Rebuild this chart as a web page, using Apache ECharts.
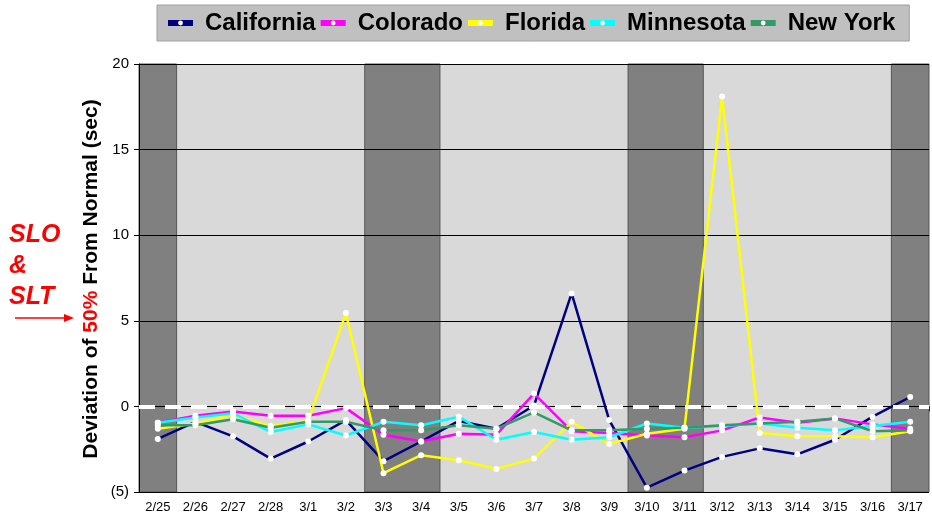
<!DOCTYPE html>
<html>
<head>
<meta charset="utf-8">
<script src="https://cdn.jsdelivr.net/npm/echarts@6/dist/echarts.min.js"></script>
<style>
  html, body { margin: 0; padding: 0; background: #fff; }
  #chart { width: 932px; height: 519px; }
</style>
</head>
<body>
<div id="chart"></div>
<script>
// dates on the x axis
var days = ['2/25', '2/26', '2/27', '2/28', '3/1', '3/2', '3/3', '3/4', '3/5', '3/6', '3/7',
  '3/8', '3/9', '3/10', '3/11', '3/12', '3/13', '3/14', '3/15', '3/16', '3/17'];

// deviation of the 50th percentile from normal, seconds
var california = [-1.9, -0.9, -1.75, -3.05, -2.05, -0.8, -3.2, -2.05, -0.85, -1.3, 0.05,
  6.6, -0.8, -4.75, -3.75, -2.95, -2.45, -2.8, -1.95, -0.6, 0.55];
var colorado = [-0.95, -0.55, -0.3, -0.55, -0.55, -0.1, -1.65, -2.05, -1.6, -1.65, 0.75,
  -1.45, -1.55, -1.7, -1.8, -1.4, -0.65, -0.95, -0.7, -1.05, -1.3];
var florida = [-1.3, -1.0, -0.5, -1.15, -0.85, 5.45, -3.9, -2.85, -3.15, -3.65, -3.05,
  -0.9, -2.2, -1.6, -1.3, 18.1, -1.55, -1.75, -1.75, -1.8, -1.45];
var minnesota = [-0.95, -0.65, -0.4, -1.5, -1.05, -1.7, -0.9, -1.1, -0.6, -1.95, -1.5,
  -1.95, -1.8, -1.0, -1.25, -1.15, -1.0, -1.25, -1.4, -1.15, -0.9];
var newYork = [-1.1, -1.1, -0.75, -1.25, -0.9, -0.9, -1.4, -1.4, -1.1, -1.3, -0.35,
  -1.4, -1.4, -1.3, -1.25, -1.1, -1.0, -0.9, -0.7, -1.45, -1.4];

var yTicks = [-5, 0, 5, 10, 15, 20];

// weekend / weekday bands, as day-index ranges
var weekendBands = [[0, 1], [6, 8], [13, 15], [20, 21]];
var weekdayBands = [[1, 6], [8, 13], [15, 20]];

var myChart = echarts.init(document.getElementById('chart'));

var bandData = [];
weekdayBands.forEach(function (b) {
  bandData.push([{ xAxis: b[0], itemStyle: { color: '#d9d9d9', borderWidth: 0 } }, { xAxis: b[1] }]);
});
weekendBands.forEach(function (b) {
  bandData.push([{ xAxis: b[0], itemStyle: { color: '#808080', borderColor: '#555', borderWidth: 1 } }, { xAxis: b[1] }]);
});

function stateSeries(name, data, color) {
  return {
    name: name,
    type: 'line',
    data: data,
    z: 3,
    symbol: 'circle',
    symbolSize: 6,
    showAllSymbol: true,
    itemStyle: { color: '#fff', borderWidth: 0 },
    lineStyle: { color: color, width: 2.5 },
    emphasis: { disabled: true }
  };
}

var series = [
  {
    name: 'bg',
    type: 'line',
    xAxisIndex: 1,
    data: [],
    z: 1,
    silent: true,
    markArea: { silent: true, data: bandData }
  },
  {
    name: 'zero',
    type: 'line',
    data: [],
    z: 2,
    silent: true,
    markLine: {
      silent: true,
      symbol: 'none',
      label: { show: false },
      lineStyle: { color: '#fff', type: [16, 10], width: 4 },
      data: [{ yAxis: 0 }]
    }
  },
  stateSeries('California', california, '#000080'),
  stateSeries('Colorado', colorado, '#ff00ff'),
  stateSeries('Florida', florida, '#ffff00'),
  stateSeries('Minnesota', minnesota, '#00ffff'),
  stateSeries('New York', newYork, '#339966')
];

var option = {
  animation: false,
  backgroundColor: '#fff',
  grid: { left: 139, right: 3, top: 64, bottom: 27 },
  legend: {
    data: ['California', 'Colorado', 'Florida', 'Minnesota', 'New York'],
    left: 157,
    top: 5,
    padding: [6, 14, 6, 8],
    backgroundColor: '#c0c0c0',
    borderColor: '#a0a0a0',
    borderWidth: 1,
    itemWidth: 25,
    itemHeight: 6,
    itemGap: 2,
    lineStyle: { width: 6 },
    textStyle: { fontFamily: 'Arial', fontSize: 24, fontWeight: 'bold', color: '#000', padding: [0, 0, 0, 7] }
  },
  xAxis: [
    {
      type: 'category',
      data: days,
      boundaryGap: true,
      axisLine: { lineStyle: { color: '#000', width: 1 } },
      axisTick: { show: true, length: 5, lineStyle: { color: '#000' } },
      axisLabel: { color: '#000', fontFamily: 'Arial', fontSize: 13, margin: 9, interval: 0 },
      splitLine: { show: false }
    },
    {
      type: 'value',
      min: 0,
      max: 21,
      show: false
    }
  ],
  yAxis: {
    type: 'value',
    min: yTicks[0],
    max: yTicks[yTicks.length - 1],
    interval: 5,
    z: 1.5,
    axisLine: { show: true, lineStyle: { color: '#000', width: 1 } },
    axisTick: { show: true, length: 5, lineStyle: { color: '#000' } },
    axisLabel: {
      color: '#000', fontFamily: 'Arial', fontSize: 15, margin: 10,
      formatter: function (v) { return v < 0 ? '(' + Math.abs(v) + ')' : String(v); }
    },
    splitLine: { show: true, lineStyle: { color: '#000', width: 1 } }
  },
  graphic: [
    {
      type: 'text',
      x: 91,
      y: 279,
      rotation: Math.PI / 2,
      style: {
        text: '{a|Deviation of }{b|50%}{a| From Normal (sec)}',
        align: 'center',
        verticalAlign: 'middle',
        rich: {
          a: { fontFamily: 'Arial', fontSize: 21, fontWeight: 'bold', fill: '#000' },
          b: { fontFamily: 'Arial', fontSize: 21, fontWeight: 'bold', fill: '#ff0000' }
        }
      }
    },
    {
      type: 'text', left: 9, top: 220,
      style: { text: 'SLO\n&\nSLT', fontFamily: 'Arial', fontSize: 25, fontWeight: 'bold', fontStyle: 'italic', fill: '#ff0000', lineHeight: 31 }
    },
    { type: 'line', shape: { x1: 15, y1: 318, x2: 66, y2: 318 }, style: { stroke: '#ff0000', lineWidth: 1.5 } },
    { type: 'polygon', shape: { points: [[74, 318], [64, 314], [64, 322]] }, style: { fill: '#ff0000' } },
    {
      type: 'text', x: 271, y: 171,
      style: { text: 'SLA', align: 'center', verticalAlign: 'middle', fontFamily: 'Arial', fontSize: 25, fontWeight: 'bold', fontStyle: 'italic', fill: '#ff0000' }
    },
    { type: 'line', shape: { x1: 184, y1: 197, x2: 359, y2: 197 }, style: { stroke: '#ff0000', lineWidth: 1.5 } },
    { type: 'polygon', shape: { points: [[178, 197], [188, 193], [188, 201]] }, style: { fill: '#ff0000' } },
    { type: 'polygon', shape: { points: [[365, 197], [355, 193], [355, 201]] }, style: { fill: '#ff0000' } },
    {
      type: 'text', x: 267, y: 227,
      style: { text: 'Weekdays', align: 'center', verticalAlign: 'middle', fontFamily: 'Arial', fontSize: 22, fontWeight: 'bold', fill: '#ff0000' }
    }
  ],
  series: series
};

myChart.setOption(option);
</script>
</body>
</html>
